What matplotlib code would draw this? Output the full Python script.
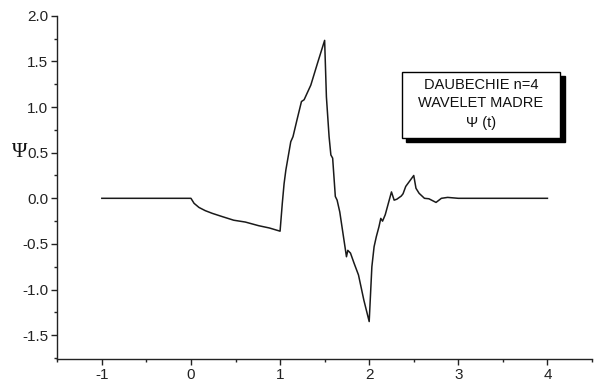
import matplotlib
matplotlib.use("Agg")
import matplotlib.pyplot as plt
from matplotlib.patches import Rectangle
from matplotlib.ticker import MultipleLocator

# Valores (t, psi)
t_vals = [-1.0, 0.0, 0.035, 0.09, 0.16, 0.24, 0.35, 0.48, 0.61, 0.76, 0.88, 1.0,
          1.025, 1.045, 1.065, 1.12, 1.145, 1.19, 1.24, 1.27, 1.345, 1.42, 1.50,
          1.52, 1.55, 1.57, 1.59, 1.62, 1.64, 1.67, 1.745, 1.76, 1.79, 1.83, 1.88,
          1.94, 2.00, 2.03, 2.055, 2.08, 2.11, 2.13, 2.15, 2.18, 2.25, 2.28, 2.31,
          2.36, 2.38, 2.41, 2.50, 2.525, 2.56, 2.62, 2.67, 2.75, 2.81, 2.88, 3.0, 4.0]
psi_vals = [0.0, 0.0, -0.055, -0.10, -0.135, -0.165, -0.20, -0.24, -0.26, -0.30, -0.325, -0.36,
            -0.055, 0.16, 0.31, 0.62, 0.675, 0.86, 1.06, 1.08, 1.24, 1.48, 1.73,
            1.11, 0.675, 0.475, 0.44, 0.02, -0.02, -0.15, -0.64, -0.57, -0.60, -0.71, -0.84,
            -1.115, -1.35, -0.75, -0.53, -0.42, -0.31, -0.22, -0.25, -0.18, 0.07, -0.02, -0.01,
            0.025, 0.05, 0.13, 0.25, 0.11, 0.055, 0.0, -0.005, -0.045, 0.0, 0.01, 0.0, 0.0]

box_lines = ["DAUBECHIE n=4", "WAVELET MADRE", "\u03a8 (t)"]

plt.rcParams["font.family"] = ["Liberation Sans", "DejaVu Sans"]

fig = plt.figure(figsize=(6.01, 3.90), dpi=100)
ax = fig.add_axes([0.0953, 0.0795, 0.8897, 0.8802])

ax.plot(t_vals, psi_vals, color="#1a1a1a", linewidth=1.1)

# Ejes estilo Origin: solo izquierda y abajo
ax.spines["top"].set_visible(False)
ax.spines["right"].set_visible(False)
for s in ("left", "bottom"):
    ax.spines[s].set_linewidth(1.0)
    ax.spines[s].set_color("#222222")

ax.set_xlim(-1.5, 4.5)
ax.set_ylim(-1.76, 2.0)
ax.xaxis.set_major_locator(MultipleLocator(1))
ax.xaxis.set_minor_locator(MultipleLocator(0.5))
ax.yaxis.set_major_locator(MultipleLocator(0.5))
ax.yaxis.set_minor_locator(MultipleLocator(0.25))
ax.xaxis.set_major_formatter(plt.FuncFormatter(lambda v, p: f"{v:.0f}"))
ax.yaxis.set_major_formatter(plt.FuncFormatter(lambda v, p: f"{v:.1f}"))
ax.tick_params(which="major", direction="out", length=4.5, width=1.0,
               labelsize=11, colors="#222222", pad=2)
ax.tick_params(which="minor", direction="out", length=2.5, width=1.0, colors="#222222")

# Etiqueta del eje y
fig.text(0.033, 0.61, "\u03a8", fontsize=15, family="Liberation Serif",
         ha="center", va="center", color="#111111")

# Caja de titulo con sombra
bx, by, bw, bh = 0.644, 0.643, 0.296, 0.194
ax.add_patch(Rectangle((bx + 0.009, by - 0.012), bw, bh, transform=ax.transAxes,
                       facecolor="black", edgecolor="black", zorder=4, clip_on=False))
ax.add_patch(Rectangle((bx, by), bw, bh, transform=ax.transAxes,
                       facecolor="white", edgecolor="black", linewidth=1.0,
                       zorder=5, clip_on=False))
for frac, line in zip([0.80, 0.525, 0.23], box_lines):
    ax.text(bx + bw / 2, by + bh * frac, line, transform=ax.transAxes,
            ha="center", va="center", fontsize=10.5, color="#111111", zorder=6)

fig.savefig("out.png", dpi=100)
